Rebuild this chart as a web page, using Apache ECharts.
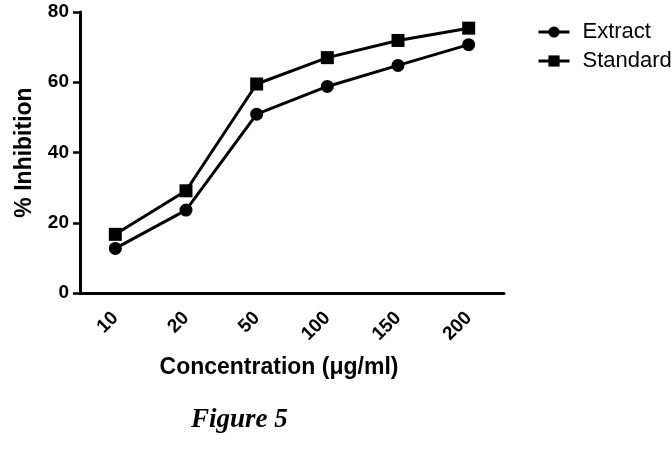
<!DOCTYPE html>
<html>
<head>
<meta charset="utf-8">
<script src="https://cdn.jsdelivr.net/npm/echarts@6/dist/echarts.min.js"></script>
<style>
  html, body { margin: 0; padding: 0; background: #fff; }
  #chart { width: 671px; height: 460px; }
</style>
</head>
<body>
<div id="chart"></div>
<script>
// concentrations (µg/ml) and % inhibition
const concentrations = ['10', '20', '50', '100', '150', '200'];
const extractValues = [12.7, 23.6, 50.9, 58.8, 64.8, 70.7];
const standardValues = [16.7, 29.1, 59.5, 67.0, 71.9, 75.4];
const yTicks = [0, 20, 40, 60, 80];

const chart = echarts.init(document.getElementById('chart'));
const font = 'Liberation Sans, Arial, sans-serif';

chart.setOption({
  animation: false,
  backgroundColor: '#fff',
  title: {
    text: 'Figure 5',
    left: 186,
    top: 402,
    textStyle: {
      fontFamily: 'Liberation Serif, Times New Roman, serif',
      fontStyle: 'italic',
      fontWeight: 'bold',
      fontSize: 27,
      color: '#000'
    }
  },
  legend: {
    orient: 'vertical',
    left: 532,
    top: 16,
    itemWidth: 31,
    itemHeight: 14,
    itemGap: 7,
    lineStyle: { width: 3, color: '#000' },
    textStyle: { fontFamily: font, fontSize: 22, color: '#000', padding: [0, 0, 0, 8] },
    data: ['Extract', 'Standard']
  },
  grid: { left: 80, top: 12, right: 167, bottom: 167 },
  xAxis: {
    type: 'category',
    data: concentrations,
    boundaryGap: true,
    name: 'Concentration (μg/ml)',
    nameLocation: 'middle',
    nameGap: 63,
    nameTextStyle: { fontFamily: font, fontSize: 23, fontWeight: 'bold', color: '#000', padding: [0, 26, 0, 0] },
    axisLine: { lineStyle: { color: '#000', width: 3 } },
    axisTick: { alignWithLabel: true, length: 7, lineStyle: { width: 2.5, color: '#000' } },
    axisLabel: {
      rotate: 45,
      margin: 22,
      fontFamily: font,
      fontSize: 19,
      fontWeight: 'bold',
      color: '#000'
    }
  },
  yAxis: {
    type: 'value',
    min: yTicks[0],
    max: yTicks[yTicks.length - 1],
    interval: 20,
    name: '% Inhibition',
    nameLocation: 'middle',
    nameGap: 44,
    nameTextStyle: { fontFamily: font, fontSize: 23, fontWeight: 'bold', color: '#000' },
    axisLine: { show: true, lineStyle: { color: '#000', width: 3 } },
    axisTick: { show: true, length: 7, lineStyle: { width: 2.5, color: '#000' } },
    splitLine: { show: false },
    axisLabel: { fontFamily: font, fontSize: 19, fontWeight: 'bold', color: '#000', margin: 11 }
  },
  series: [
    {
      name: 'Extract',
      type: 'line',
      data: extractValues,
      symbol: 'circle',
      symbolSize: 13,
      itemStyle: { color: '#000' },
      lineStyle: { color: '#000', width: 3 }
    },
    {
      name: 'Standard',
      type: 'line',
      data: standardValues,
      symbol: 'rect',
      symbolSize: 13,
      itemStyle: { color: '#000' },
      lineStyle: { color: '#000', width: 3 }
    }
  ]
});
</script>
</body>
</html>
